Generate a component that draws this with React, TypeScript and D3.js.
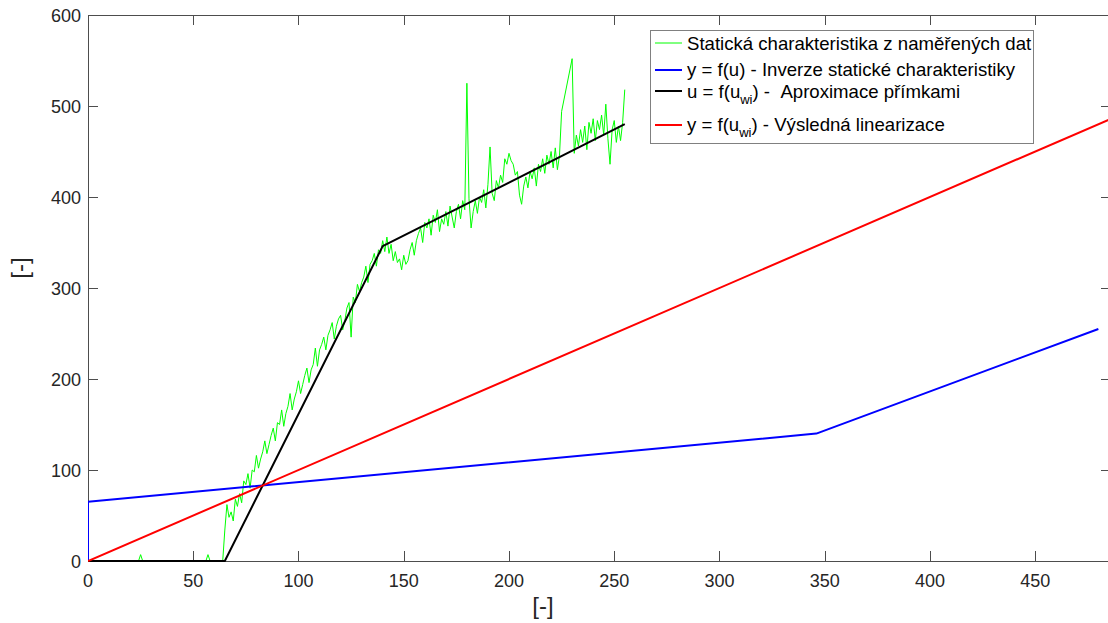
import React from 'react';
import * as d3 from 'd3';

const W = 1108;
const H = 623;

const xTicks = [0, 50, 100, 150, 200, 250, 300, 350, 400, 450];
const yTicks = [0, 100, 200, 300, 400, 500, 600];

// Measured static characteristic, value at u = 0..255 (NaN = no sample)
const greenY: number[] = [
  0, 0, 0, 0, 0, 0, 0, 0, 0, 0, 0, 0, 0, 0, 0, 0,
  0, 0, 0, 0, 0, 0, 0, 0, 0, 7, 0, 0, 0, 0, 0, 0,
  0, 0, 0, 0, 0, 0, 0, 0, 0, 0, 0, 0, 0, 0, 0, 0,
  0, 0, 0, 0, 0, 0, 0, 0, 0, 7, 0, 0, 0, 0, 0, 0,
  0, 34, 62, 48, 54, 44, 68, 60, 74, 64, 88, 84, 96, 80, 100, 98,
  116, 102, 112, 120, 132, 118, 128, 138, 146, 132, 152, 150, 166, 148, 162, 170,
  184, 166, 178, 186, 198, 184, 194, 204, 212, 196, 210, 216, 234, 214, 232, 238,
  246, 232, 248, 254, 262, 244, 258, 266, 270, 254, 264, 278, 284, 246, 290, 284,
  304, 296, 306, 312, 324, 306, 326, 330, 338, 324, 342, 338, 352, 340, 356, 338,
  348, 330, 340, 328, 332, 320, 336, 326, 330, 342, 350, 336, 352, 360, 366, 350,
  372, 366, 376, 358, 380, 372, 386, 362, 376, 370, 384, 368, 390, 378, 366, 384,
  392, 376, 396, 386, 525, 398, 366, 384, 396, 382, 400, 394, 408, 388, 414, 455,
  404, 396, 418, 410, 424, 416, 442, 436, 448, 440, 436, 424, 428, 402, 392, 412,
  422, 410, 428, 420, 432, 412, 436, 428, 442, 426, 446, 436, 450, 432, 454, 430,
  446, 494, NaN, NaN, NaN, NaN, 552, 448, 468, 456, 474, 460, 478, 452, 482, 470,
  486, 462, 484, 474, 490, 468, 502, 464, 436, 474, 484, 460, 478, 462, 482, 518,
];

// u = f(u_wi) - piecewise linear approximation
const blackU = [0, 65, 140, 255];
const blackY = [0, 0, 346, 480];
// y = f(u) - inverse of the static characteristic
const blueU = [0, 0, 346, 480];
const blueY = [0, 65, 140, 255];
// y = f(u_wi) - resulting linearisation
const redU = [0, 486];
const redY = [0, 486];

const legendLabels = [
  { color: '#00ff00', main: 'Statická charakteristika z naměřených dat', sub: '', rest: '' },
  { color: '#0000ff', main: 'y = f(u) - Inverze statické charakteristiky', sub: '', rest: '' },
  { color: '#000000', main: 'u = f(u', sub: 'wi', rest: ') -\u00a0\u00a0Aproximace přímkami' },
  { color: '#ff0000', main: 'y = f(u', sub: 'wi', rest: ') - Výsledná linearizace' },
];

const left = 88;
const right = 1111;
const top = 15;
const bottom = 561;

export default function App() {
  const x = d3.scaleLinear().domain([0, 486]).range([left, right]);
  const y = d3.scaleLinear().domain([0, 600]).range([bottom, top]);

  const line = d3
    .line<[number, number]>()
    .x((d) => x(d[0]))
    .y((d) => y(d[1]));

  const greenPts: [number, number][] = greenY
    .map((v, i) => [i, v] as [number, number])
    .filter((d) => !isNaN(d[1]));
  const blackPts = blackU.map((u, i) => [u, blackY[i]] as [number, number]);
  const bluePts = blueU.map((u, i) => [u, blueY[i]] as [number, number]);
  const redPts = redU.map((u, i) => [u, redY[i]] as [number, number]);

  const axisColor = '#4d4d4d';
  const textColor = '#262626';
  const font = '"Liberation Sans", Arial, Helvetica, sans-serif';
  const tickLen = 10;

  const legendRowsLine = [43, 70, 91, 125];
  const legendRowsBase = [49.5, 76, 97.5, 131];

  return (
    <svg
      width={W}
      height={H}
      style={{ position: 'absolute', left: 0, top: 0, background: '#fff' }}
      fontFamily={font}
    >
      <rect x={0} y={0} width={W} height={H} fill="#fff" />
      <defs>
        <clipPath id="plotClip">
          <rect x={left} y={top - 2} width={right - left} height={bottom - top + 4} />
        </clipPath>
      </defs>

      {/* frame */}
      <g stroke={axisColor} strokeWidth={1} fill="none" shapeRendering="crispEdges">
        <line x1={left} x2={right} y1={bottom + 0.5} y2={bottom + 0.5} />
        <line x1={left} x2={right} y1={top + 0.5} y2={top + 0.5} />
        <line x1={left + 0.5} x2={left + 0.5} y1={top} y2={bottom} />
        <line x1={right} x2={right} y1={top} y2={bottom} />
        {xTicks.map((t) => (
          <g key={'xt' + t}>
            <line x1={Math.round(x(t)) + 0.5} x2={Math.round(x(t)) + 0.5} y1={bottom} y2={bottom - tickLen} />
            <line x1={Math.round(x(t)) + 0.5} x2={Math.round(x(t)) + 0.5} y1={top} y2={top + tickLen} />
          </g>
        ))}
        {yTicks.map((t) => (
          <g key={'yt' + t}>
            <line x1={left} x2={left + tickLen} y1={Math.round(y(t)) + 0.5} y2={Math.round(y(t)) + 0.5} />
            <line x1={right} x2={right - tickLen} y1={Math.round(y(t)) + 0.5} y2={Math.round(y(t)) + 0.5} />
          </g>
        ))}
      </g>

      {/* tick labels */}
      <g fill={textColor} fontSize={18}>
        {xTicks.map((t) => (
          <text key={'xl' + t} x={x(t)} y={587} textAnchor="middle">
            {t}
          </text>
        ))}
        {yTicks.map((t) => (
          <text key={'yl' + t} x={81} y={y(t) + 6.5} textAnchor="end">
            {t}
          </text>
        ))}
      </g>

      {/* axis labels */}
      <text x={543} y={613.5} textAnchor="middle" fontSize={24} fill={textColor}>
        [-]
      </text>
      <text
        transform="translate(28,268) rotate(-90)"
        textAnchor="middle"
        fontSize={24}
        fill={textColor}
      >
        [-]
      </text>

      {/* data */}
      <g clipPath="url(#plotClip)" fill="none" strokeLinejoin="round">
        <path d={line(greenPts) || ''} stroke="#00ff00" strokeWidth={1} />
        <path d={line(bluePts) || ''} stroke="#0000ff" strokeWidth={2} />
        <path d={line(blackPts) || ''} stroke="#000000" strokeWidth={2} />
        <path d={line(redPts) || ''} stroke="#ff0000" strokeWidth={2} />
      </g>

      {/* legend */}
      <g>
        <rect x={650.5} y={30.5} width={383} height={113} fill="#fff" stroke="#808080" strokeWidth={1} />
        {legendLabels.map((l, i) => (
          <g key={'lg' + i}>
            <line
              x1={655}
              x2={682}
              y1={legendRowsLine[i]}
              y2={legendRowsLine[i]}
              stroke={l.color}
              strokeWidth={i === 0 ? 1 : 2}
            />
            <text x={687} y={legendRowsBase[i]} fontSize={18.6} fill="#000">
              <tspan>{l.main}</tspan>
              {l.sub ? (
                <tspan fontSize={13} dy={6}>
                  {l.sub}
                </tspan>
              ) : null}
              {l.rest ? <tspan dy={-6} fontSize={18.6}>{l.rest}</tspan> : null}
            </text>
          </g>
        ))}
      </g>
    </svg>
  );
}
